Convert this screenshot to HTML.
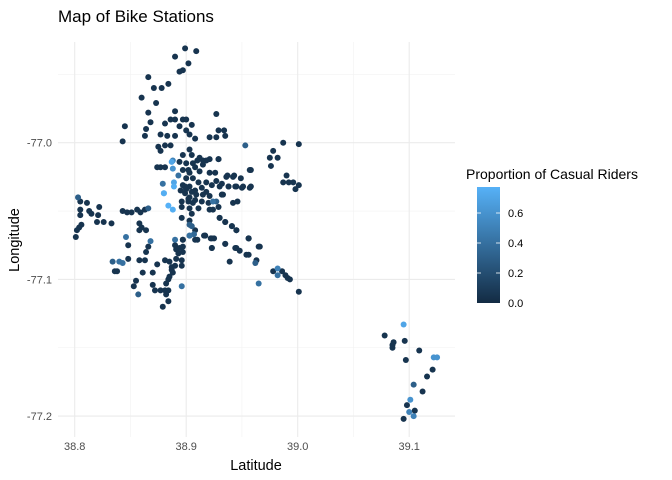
<!DOCTYPE html>
<html><head><meta charset="utf-8"><style>
body{margin:0;background:#fff;}
svg{display:block;font-family:"Liberation Sans",Arial,sans-serif;}
</style></head><body>
<svg id="chart" width="672" height="480" viewBox="0 0 672 480" xmlns="http://www.w3.org/2000/svg">
<defs><linearGradient id="cbar" x1="0" y1="1" x2="0" y2="0"><stop offset="0" stop-color="#132B43"/><stop offset="1" stop-color="#56B1F7"/></linearGradient></defs>
<g id="grid"></g>
<g id="pts"></g>
<g id="axes"></g>
<text x="58" y="22" font-size="17" fill="#000">Map of Bike Stations</text>
<text x="256" y="470" font-size="14.5" text-anchor="middle" fill="#000">Latitude</text>
<text transform="translate(19,240) rotate(-90)" font-size="14.5" text-anchor="middle" fill="#000">Longitude</text>
<g>
<text x="466" y="179" font-size="14" fill="#000">Proportion of Casual Riders</text>
<rect x="477" y="187" width="23" height="116" fill="url(#cbar)"/>
<g id="cticks"></g>
</g>
</svg>
<script>
const lat = [38.899,38.909,38.890,38.902,38.894,38.897,38.866,38.884,38.871,38.878,38.860,38.873,38.890,38.866,38.927,38.845,38.868,38.864,38.863,38.881,38.886,38.890,38.897,38.900,38.894,38.905,38.843,38.877,38.883,38.890,38.886,38.881,38.900,38.903,38.908,38.921,38.929,38.934,38.927,38.935,38.953,38.978,38.987,38.982,38.975,38.976,39.001,38.990,38.987,38.992,38.996,39.001,38.998,38.958,38.936,38.942,38.938,38.945,38.951,38.958,38.933,
38.897,38.905,38.894,38.906,38.915,38.921,38.929,38.915,38.908,38.877,38.887,38.888,38.897,38.903,38.912,38.921,38.926,38.893,38.900,38.906,38.911,38.918,38.927,38.932,38.889,38.889,38.897,38.903,38.908,38.914,38.918,38.923,38.930,38.880,38.899,38.903,38.909,38.915,38.921,38.927,38.932,38.896,38.902,38.906,38.914,38.920,38.884,38.888,38.896,38.903,38.911,38.921,38.929,38.905,38.896,38.903,38.903,38.908,38.903,38.890,38.897,38.900,38.905,38.902,38.908,38.899,38.895,38.902,38.910,38.900,38.903,
38.937,38.943,38.949,38.957,38.938,38.944,38.950,38.957,38.930,38.935,38.941,38.945,38.917,38.925,38.956,38.910,38.923,38.935,38.945,38.954,38.966,
38.803,38.805,38.811,38.805,38.805,38.813,38.815,38.822,38.821,38.820,38.826,38.833,38.806,38.804,38.802,38.801,38.843,38.847,38.851,38.856,38.859,38.863,38.866,38.858,38.860,38.864,38.858,
38.846,38.868,38.848,38.866,38.864,38.834,38.840,38.843,38.848,38.836,38.838,38.858,38.863,38.861,38.870,38.874,38.855,38.853,38.857,38.870,38.872,38.877,38.881,38.884,38.882,38.884,38.879,38.881,38.885,38.887,38.890,38.891,38.891,38.894,38.897,38.897,38.890,38.893,38.896,38.897,38.888,38.887,38.884,38.882,38.885,38.896,38.896,
38.903,38.908,38.917,38.923,38.923,38.935,38.944,38.948,38.956,38.965,38.939,38.956,38.963,38.962,38.965,38.978,38.982,38.982,38.986,38.989,38.991,38.993,39.001,
39.095,39.078,39.086,39.085,39.085,39.096,39.109,39.097,39.122,39.125,39.121,39.116,39.104,39.112,39.101,39.098,39.100,39.105,39.104,39.095,
38.875,38.877,38.874,38.881,38.888,38.879,38.880,38.929,38.918,38.912,38.932,38.942,38.946,38.930,38.935,38.941,38.945,38.956,38.924,38.924,38.916,38.922,38.907,38.905];
const lon = [-76.931,-76.933,-76.937,-76.942,-76.948,-76.947,-76.952,-76.957,-76.960,-76.960,-76.967,-76.971,-76.977,-76.978,-76.979,-76.988,-76.985,-76.990,-76.995,-76.986,-76.983,-76.983,-76.983,-76.983,-76.988,-76.987,-76.999,-76.994,-76.995,-76.995,-77.002,-77.002,-76.991,-76.994,-76.997,-76.996,-76.991,-76.991,-76.996,-76.995,-77.002,-77.006,-77.000,-77.011,-77.011,-77.017,-77.001,-77.024,-77.029,-77.029,-77.029,-77.031,-77.034,-77.020,-77.025,-77.025,-77.032,-77.032,-77.032,-77.032,-77.038,
-77.009,-77.009,-77.014,-77.015,-77.013,-77.012,-77.012,-77.016,-77.018,-77.018,-77.014,-77.019,-77.020,-77.022,-77.021,-77.022,-77.022,-77.024,-77.026,-77.026,-77.029,-77.029,-77.028,-77.030,-77.029,-77.032,-77.031,-77.032,-77.035,-77.033,-77.036,-77.031,-77.032,-77.037,-77.037,-77.040,-77.038,-77.038,-77.039,-77.043,-77.038,-77.043,-77.043,-77.044,-77.043,-77.044,-77.046,-77.049,-77.047,-77.048,-77.048,-77.049,-77.047,-77.052,-77.055,-77.057,-77.060,-77.064,-77.068,-77.071,-77.071,-77.034,-77.036,-77.041,-77.042,-77.032,-77.035,-77.020,-77.013,-77.015,-77.005,
-77.024,-77.024,-77.026,-77.020,-77.032,-77.032,-77.033,-77.033,-77.055,-77.058,-77.061,-77.064,-77.068,-77.070,-77.070,-77.071,-77.077,-77.074,-77.077,-77.082,-77.076,
-77.040,-77.043,-77.044,-77.049,-77.053,-77.050,-77.052,-77.047,-77.053,-77.058,-77.058,-77.059,-77.060,-77.062,-77.064,-77.069,-77.050,-77.051,-77.051,-77.049,-77.051,-77.049,-77.048,-77.059,-77.062,-77.064,-77.064,
-77.069,-77.072,-77.075,-77.076,-77.080,-77.087,-77.087,-77.088,-77.085,-77.094,-77.094,-77.086,-77.086,-77.095,-77.095,-77.089,-77.101,-77.105,-77.111,-77.104,-77.108,-77.108,-77.108,-77.108,-77.111,-77.116,-77.120,-77.086,-77.087,-77.091,-77.090,-77.085,-77.078,-77.077,-77.076,-77.071,-77.075,-77.081,-77.086,-77.080,-77.095,-77.093,-77.100,-77.103,-77.098,-77.090,-77.105,
-77.068,-77.071,-77.068,-77.070,-77.077,-77.074,-77.077,-77.079,-77.070,-77.076,-77.087,-77.082,-77.086,-77.088,-77.103,-77.094,-77.092,-77.097,-77.094,-77.097,-77.099,-77.100,-77.109,
-77.133,-77.141,-77.146,-77.148,-77.150,-77.145,-77.152,-77.159,-77.157,-77.157,-77.166,-77.171,-77.177,-77.182,-77.188,-77.192,-77.197,-77.196,-77.200,-77.202,
-77.003,-77.006,-77.018,-77.018,-77.013,-77.030,-77.037,-77.012,-77.013,-77.011,-77.038,-77.044,-77.043,-77.055,-77.058,-77.061,-77.064,-77.070,-77.043,-77.049,-77.068,-77.070,-77.067,-77.061];
const propIdx = [40,71,72,78,85,86,94,100,107,108,117,119,120,153,175,180,181,185,186,187,198,226,227,240,241,243,244,250,258,259,262,264,266,268,274,275,276,288,292,293];
const propVal = [0.3,0.7,0.6,0.4,0.7,0.75,0.75,0.3,0.78,0.75,0.3,0.35,0.4,0.3,0.3,0.4,0.4,0.3,0.4,0.4,0.3,0.4,0.4,0.3,0.4,0.5,0.4,0.7,0.6,0.6,0.3,0.6,0.5,0.5,0.5,0.4,0.7,0.4,0.35,0.3];
const xTicks = [38.8,38.9,39.0,39.1];
const yTicks = [-77.0,-77.1,-77.2];
const legendTicks = [0.0,0.2,0.4,0.6];

const NS='http://www.w3.org/2000/svg';
const X = v => 74.7 + (v-38.8)*1115;
const Y = v => 142.7 - (v+77.0)*1367;
const L = v => 303 - v*150;
const lo=[19,43,67], hi=[86,177,247];
function col(p){const t=Math.min(1,p/0.77);return 'rgb('+lo.map((c,i)=>Math.round(c+(hi[i]-c)*t)).join(',')+')';}
function mk(tag,attrs,parent){const e=document.createElementNS(NS,tag);for(const k in attrs)e.setAttribute(k,attrs[k]);parent.appendChild(e);return e;}
const grid=document.getElementById('grid'), axes=document.getElementById('axes'), pts=document.getElementById('pts');
const pl=58,pr=455,pt=42,pb=437;
[38.85,38.95,39.05].forEach(v=>{const l=mk('line',{x1:X(v),x2:X(v),y1:pt,y2:pb,stroke:'#f2f2f2','stroke-width':0.6},grid);

});
[-76.95,-77.05,-77.15].forEach(v=>{const l=mk('line',{x1:pl,x2:pr,y1:Y(v),y2:Y(v),stroke:'#f2f2f2','stroke-width':0.6},grid);

});
xTicks.forEach(v=>{const l=mk('line',{x1:X(v),x2:X(v),y1:pt,y2:pb,stroke:'#ebebeb','stroke-width':1.1},grid);


const t=mk('text',{x:X(v),y:450,'font-size':11,'text-anchor':'middle',fill:'#4d4d4d'},axes);t.textContent=v.toFixed(1);

});
yTicks.forEach(v=>{const l=mk('line',{x1:pl,x2:pr,y1:Y(v),y2:Y(v),stroke:'#ebebeb','stroke-width':1.1},grid);


const t=mk('text',{x:52,y:Y(v)+4,'font-size':11,'text-anchor':'end',fill:'#4d4d4d'},axes);t.textContent=v.toFixed(1);

});
const n=Math.min(lat.length,lon.length);
const prop=[];for(let i=0;i<n;i++)prop.push(0.05);
propIdx.forEach((k,i)=>{if(k<n)prop[k]=propVal[i];});
const order=prop.map((_,i)=>i).sort((a,b)=>prop[a]-prop[b]);
order.forEach(i=>{const c=mk('circle',{cx:X(lat[i]),cy:Y(lon[i]),r:3,fill:col(prop[i])},pts);

});
const ct=document.getElementById('cticks');
legendTicks.forEach(v=>{
if(v>0){mk('line',{x1:477,x2:481,y1:L(v),y2:L(v),stroke:'#fff','stroke-width':0.8},ct);mk('line',{x1:496,x2:500,y1:L(v),y2:L(v),stroke:'#fff','stroke-width':0.8},ct);}
const t=mk('text',{x:508,y:L(v)+4,'font-size':11,fill:'#000'},ct);t.textContent=v.toFixed(1);

});
</script>
</body></html>
